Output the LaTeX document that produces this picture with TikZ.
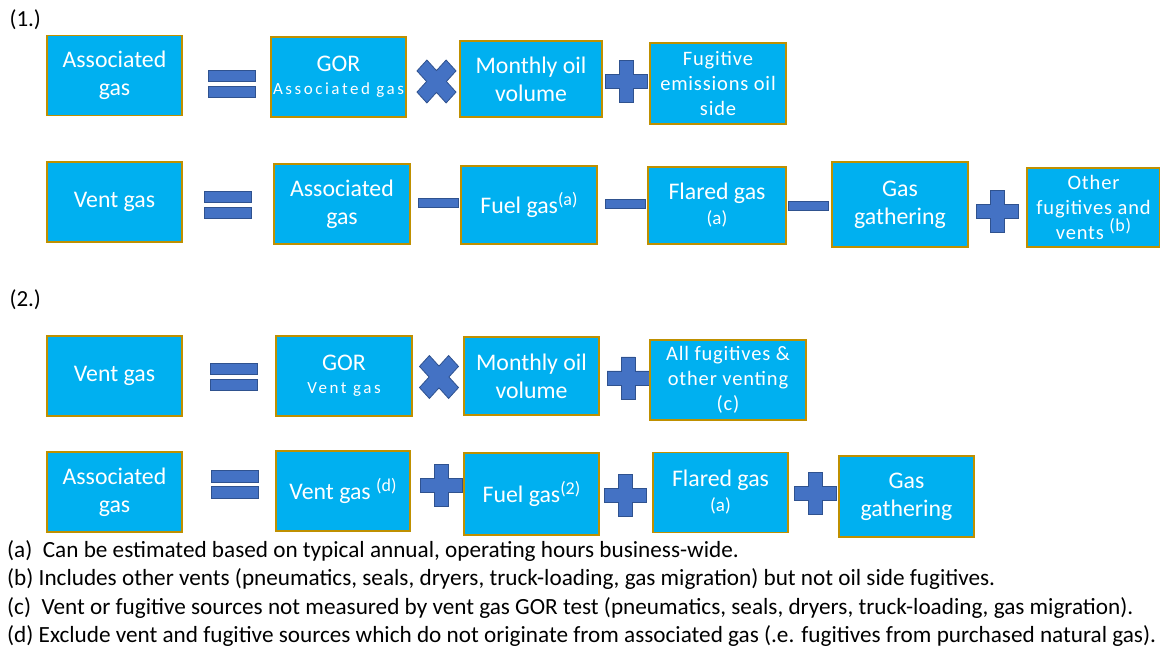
\documentclass[tikz,border=0pt]{standalone}
\usepackage{fontspec}
\setmainfont{Carlito}

\newcommand{\subtxt}{\fontsize{17}{19}\selectfont\addfontfeatures{LetterSpace=15}}
\newcommand{\fnmark}[1]{\raisebox{8pt}{\fontsize{18}{18}\selectfont(#1)}}

\begin{document}
\begin{tikzpicture}[x=1pt,y=-1pt,
  gasbox/.style={draw=boxgold,line width=1.2pt,fill=boxcyan,text=white,align=center,
    inner sep=0pt,minimum width=135pt,minimum height=80pt,
    font=\fontsize{23.8}{28}\selectfont},
  smalltxt/.style={font=\fontsize{20.5}{25}\selectfont\addfontfeatures{LetterSpace=4}},
  opfill/.style={fill=opblue,draw=opdark,line width=0.8pt},
  eqsign/.pic={
    \path[opfill] (-23.5,-13.5) rectangle (23.5,-2);
    \path[opfill] (-23.5,2.5) rectangle (23.5,14);
  },
  minussign/.pic={
    \path[opfill] (-20,-4.5) rectangle (20,4.5);
  },
  plussign/.pic={
    \path[opfill] (-7,-21)--(7,-21)--(7,-7)--(21,-7)--(21,7)--(7,7)--(7,21)
      --(-7,21)--(-7,7)--(-21,7)--(-21,-7)--(-7,-7)--cycle;
  },
  timessign/.pic={
    \path[opfill,yscale=1.1,rotate=45] (-7,-20.6)--(7,-20.6)--(7,-7)--(20.6,-7)--(20.6,7)
      --(7,7)--(7,20.6)--(-7,20.6)--(-7,7)--(-20.6,7)--(-20.6,-7)--(-7,-7)--cycle;
  }]

\definecolor{boxcyan}{RGB}{0,176,240}
\definecolor{boxgold}{RGB}{191,144,0}
\definecolor{opblue}{RGB}{68,114,196}
\definecolor{opdark}{RGB}{47,82,143}

\useasboundingbox (0,0) rectangle (1160,652);

\node[anchor=west,font=\fontsize{23}{26}\selectfont] (labA) at (6,20) {(1.)};
\node[anchor=west,font=\fontsize{23}{26}\selectfont] (labB) at (6,300) {(2.)};

% (1.) associated gas
\node[gasbox] (assocA) at (114.5,75.5) {Associated\\gas};
\pic (eqA) at (232,83.5) {eqsign};
\node[gasbox] (gorA) at (338.5,77) {GOR\\[-5pt]\subtxt Associated gas};
\pic (timesA) at (436.5,81.5) {timessign};
\node[gasbox,minimum width=142pt,minimum height=76pt] (oilA) at (531,79) {Monthly oil\\volume};
\pic (plusA) at (626,81.5) {plussign};
\node[gasbox,smalltxt,minimum width=136pt,minimum height=81pt] (fugA) at (718,83.5)
  {Fugitive\\emissions oil\\side};

% (1.) vent gas
\node[gasbox] (ventB) at (114.5,202) {Vent gas};
\pic (eqB) at (228,204.5) {eqsign};
\node[gasbox,minimum width=136pt] (assocB) at (342,204) {Associated\\gas};
\pic (minusB) at (438,203) {minussign};
\node[gasbox,minimum width=136pt,minimum height=78pt] (fuelB) at (529,205) {Fuel gas\fnmark{a}};
\pic (minusC) at (625.5,203.5) {minussign};
\node[gasbox,minimum width=138pt,minimum height=77pt] (flareB) at (717,205.5)
  {Flared gas\\[-3pt]{\fontsize{19}{20}\selectfont (a)}};
\pic (minusD) at (808.5,206) {minussign};
\node[gasbox,minimum width=136pt,minimum height=85pt] (gathB) at (900,204.5) {Gas\\gathering};
\pic (plusB) at (997,211.5) {plussign};
\node[gasbox,smalltxt,minimum width=133pt,minimum height=79pt] (otherB) at (1093.5,207.5)
  {Other\\fugitives and\\vents \fnmark{b}};

% (2.) vent gas
\node[gasbox] (ventC) at (114.5,376) {Vent gas};
\pic (eqC) at (233.5,376.5) {eqsign};
\node[gasbox,minimum width=136pt] (gorC) at (344,376) {GOR\\[-5pt]\subtxt Vent gas};
\pic (timesC) at (439,377) {timessign};
\node[gasbox,minimum height=78pt] (oilC) at (531.5,376) {Monthly oil\\volume};
\pic (plusC) at (628,378) {plussign};
\node[gasbox,smalltxt,minimum width=156pt] (allC) at (728,380)
  {All fugitives \&\\other venting\\(c)};

% (2.) associated gas
\node[gasbox] (assocD) at (114.5,492) {Associated\\gas};
\pic (eqD) at (234.5,484) {eqsign};
\node[gasbox,minimum width=134pt] (ventD) at (343,491) {Vent gas \fnmark{d}};
\pic (plusD) at (441,485) {plussign};
\node[gasbox,minimum height=82pt] (fuelD) at (531.5,494) {Fuel gas\fnmark{2}};
\pic (plusE) at (625,495) {plussign};
\node[gasbox] (flareD) at (720.5,492.5) {Flared gas\\[-3pt]{\fontsize{19}{20}\selectfont (a)}};
\pic (plusF) at (815,493) {plussign};
\node[gasbox,minimum height=81pt] (gathD) at (906.5,496.5) {Gas\\gathering};

% notes
\begin{scope}[every node/.style={anchor=west,inner sep=0pt,font=\fontsize{23.2}{26}\selectfont}]
\node (noteA) at (7,551) {(a)\ \ Can be estimated based on typical annual, operating hours business-wide.};
\node (noteB) at (7,579) {(b) Includes other vents (pneumatics, seals, dryers, truck-loading, gas migration) but not oil side fugitives.};
\node (noteC) at (7,608) {(c)\ \ Vent or fugitive sources not measured by vent gas GOR test (pneumatics, seals, dryers, truck-loading, gas migration).};
\node (noteD) at (7,636) {(d) Exclude vent and fugitive sources which do not originate from associated gas (.e. fugitives from purchased natural gas).};
\end{scope}

\end{tikzpicture}
\end{document}
